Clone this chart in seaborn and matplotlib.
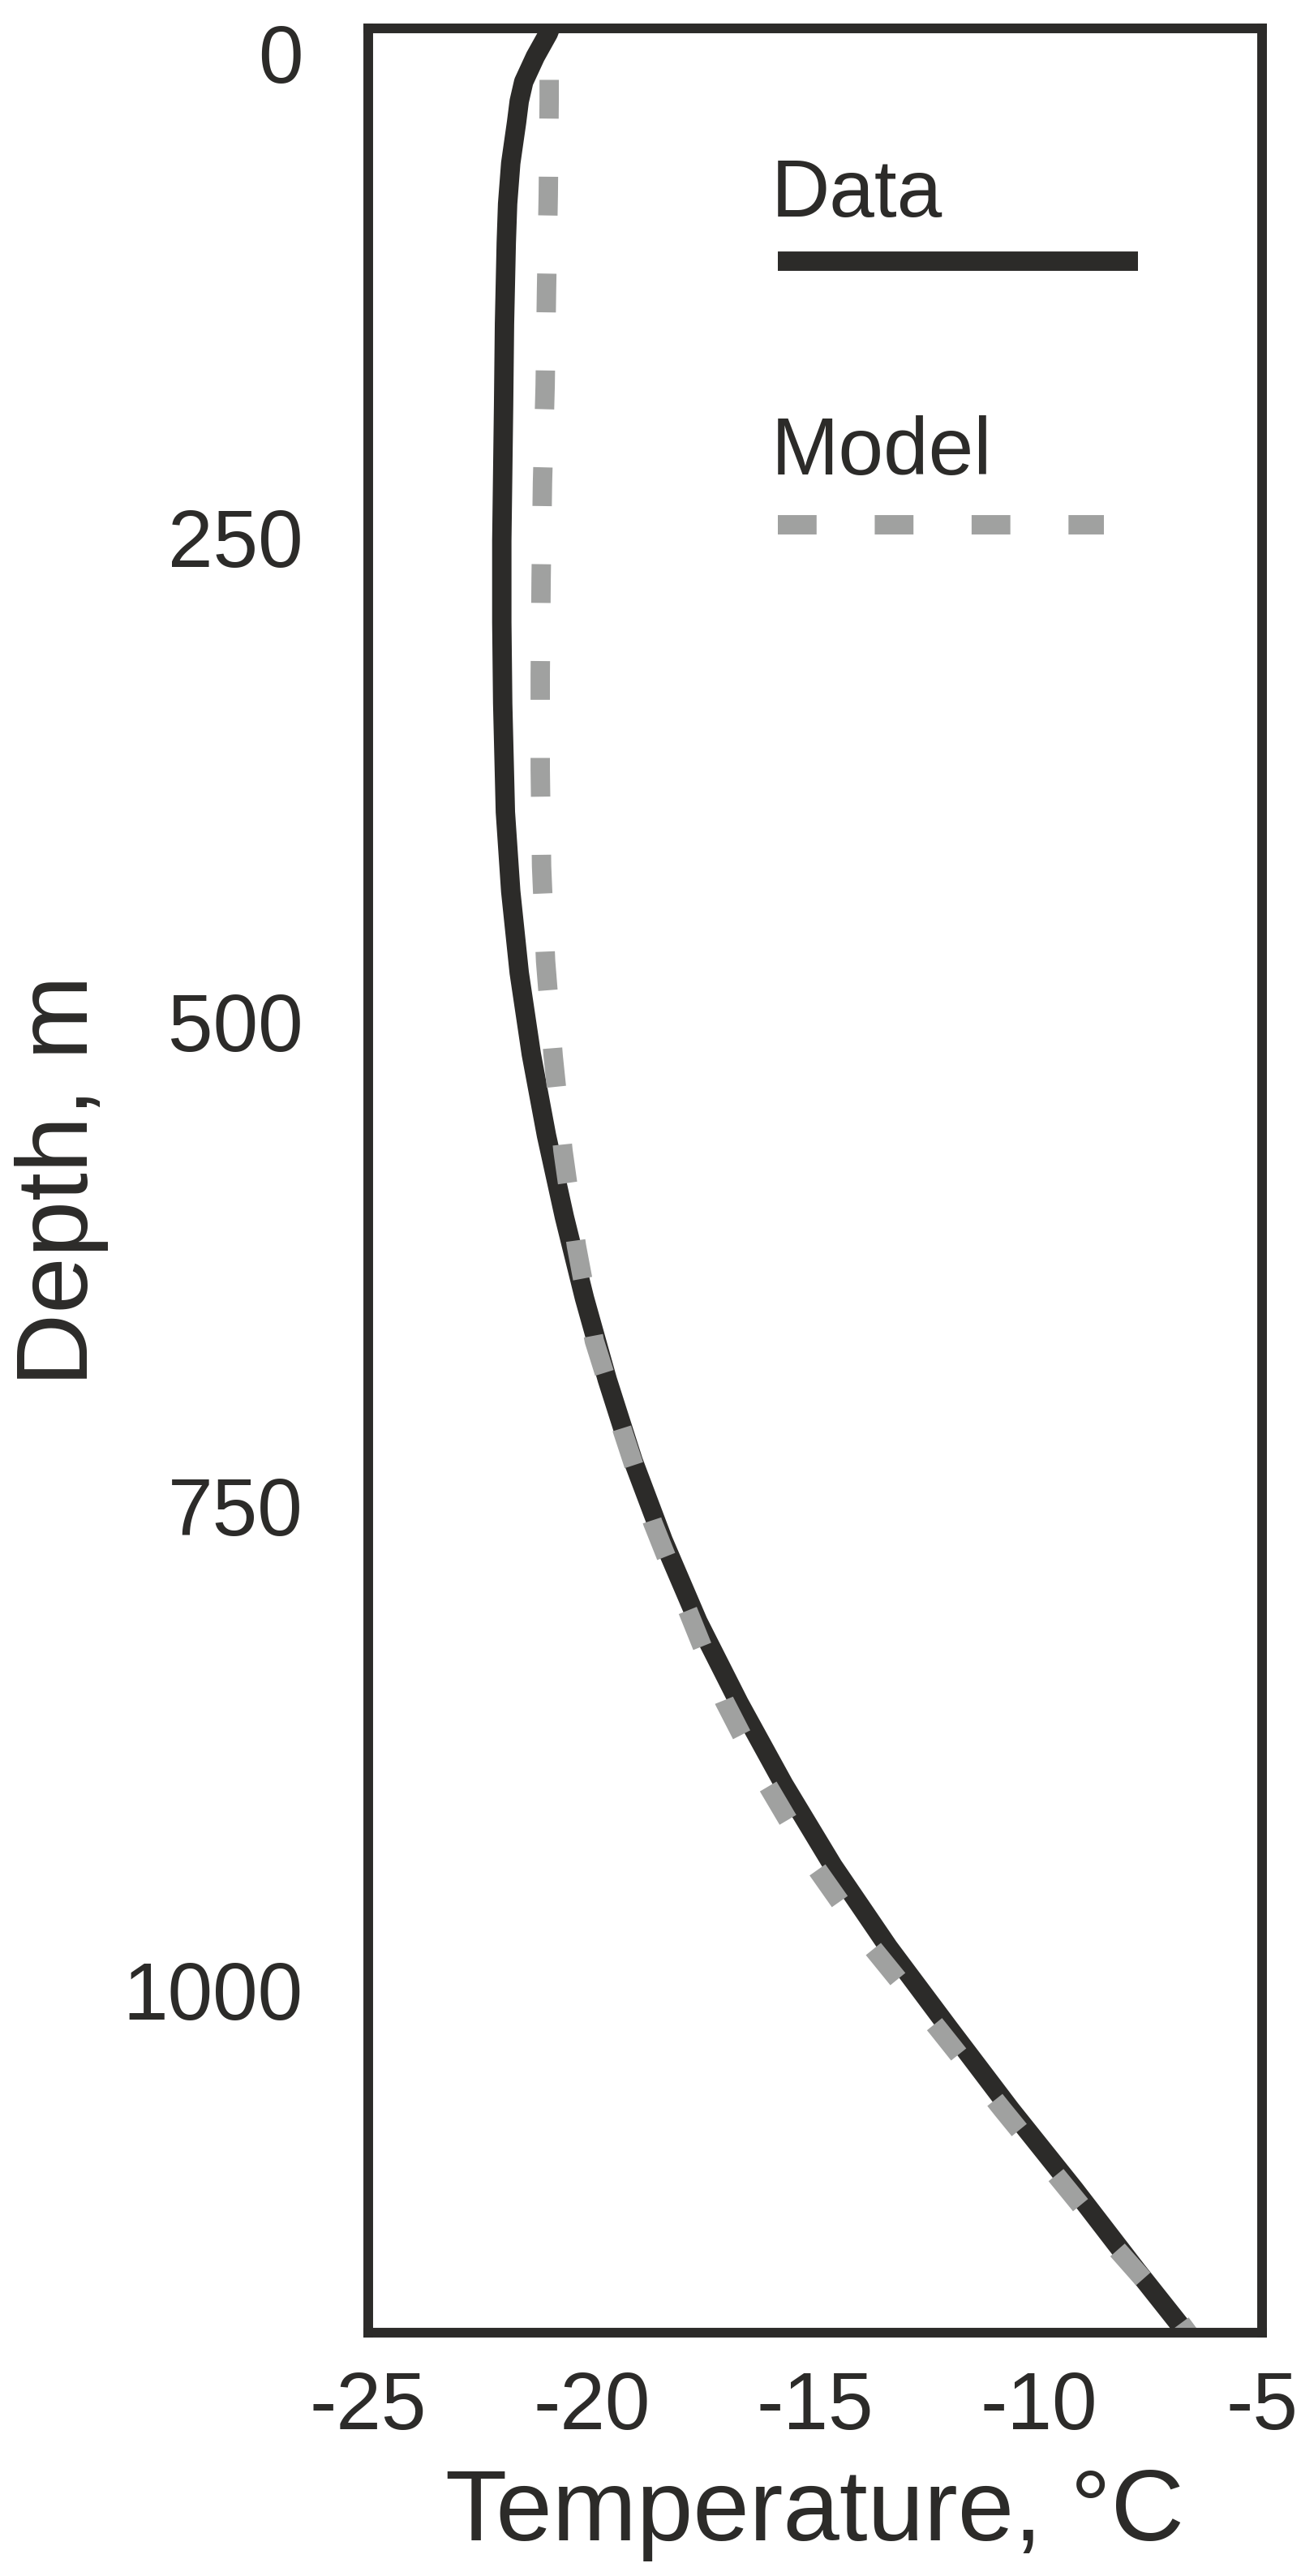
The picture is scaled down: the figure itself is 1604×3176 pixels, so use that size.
import numpy as np
import pandas as pd
import matplotlib
matplotlib.use("Agg")
import matplotlib.pyplot as plt
import seaborn as sns

# Borehole temperature profile: measured vs modelled
data_depth = [-13, -10, 2, 15, 25, 36, 57, 78, 98, 140, 182, 252, 294, 336, 392, 433,
              475, 517, 559, 601, 643, 685, 727, 768, 810, 852, 894, 936, 978, 1020,
              1062, 1103, 1145, 1177, 1180]
data_temp = [-20.92, -20.97, -21.26, -21.52, -21.62, -21.68, -21.81, -21.88, -21.91,
             -21.95, -21.97, -22.01, -22.01, -21.99, -21.93, -21.81, -21.62, -21.35,
             -21.01, -20.61, -20.16, -19.65, -19.07, -18.40, -17.62, -16.70, -15.70,
             -14.60, -13.36, -12.00, -10.62, -9.20, -7.80, -6.70, -6.60]

model_depth = [14, 24, 73, 123, 172, 222, 271, 321, 370, 420, 469, 518, 567, 616,
               665, 712, 759, 803, 851, 895, 938, 978, 1020, 1062, 1103, 1131, 1167,
               1177, 1180]
model_temp = [-20.95, -20.95, -20.97, -21.01, -21.04, -21.10, -21.13, -21.15, -21.15,
              -21.12, -21.03, -20.86, -20.64, -20.34, -19.94, -19.30, -18.63, -17.87,
              -17.03, -16.05, -14.95, -13.73, -12.25, -10.80, -9.35, -8.36, -6.98,
              -6.66, -6.56]

x_ticks = [-25, -20, -15, -10, -5]
y_ticks = [0, 250, 500, 750, 1000]

dark = "#2c2b29"
grey = "#a0a1a0"

sns.set_style("white")
plt.rcParams['font.family'] = ['Liberation Sans', 'DejaVu Sans']
plt.rcParams['axes.unicode_minus'] = False
plt.rcParams['text.color'] = dark

df_data = pd.DataFrame({"Temperature": data_temp, "Depth": data_depth})
df_model = pd.DataFrame({"Temperature": model_temp, "Depth": model_depth})

fig = plt.figure(figsize=(8.02, 15.88), dpi=200)
ax = fig.add_axes([0.283, 0.0945, 0.687, 0.8945])

lw = 8.6
sns.lineplot(data=df_data, x="Temperature", y="Depth", sort=False, estimator=None,
             color=dark, linewidth=lw, solid_capstyle="butt", solid_joinstyle="round", ax=ax)
sns.lineplot(data=df_model, x="Temperature", y="Depth", sort=False, estimator=None,
             color=grey, linewidth=lw, linestyle=(0, (2, 3)), dash_capstyle="butt", ax=ax)

ax.set_xlim(-25, -5)
ax.set_ylim(1177, -12.6)
ax.set_xticks(x_ticks)
ax.set_xticklabels([str(v) for v in x_ticks])
ax.set_yticks(y_ticks)
ax.set_yticklabels([str(v) for v in y_ticks])

for sp in ax.spines.values():
    sp.set_linewidth(4.3)
    sp.set_color(dark)

ax.tick_params(axis="x", length=0, pad=16.5, labelsize=36, labelcolor=dark)
ax.tick_params(axis="y", length=0, pad=29, labelsize=36, labelcolor=dark)

ax.set_xlabel("Temperature, °C", fontsize=45, color=dark)
ax.set_ylabel("Depth, m", fontsize=45, color=dark)
ax.xaxis.set_label_coords(0.5, -0.0585)
ax.yaxis.set_label_coords(-0.29, 0.5)

# hand-made legend: label above its line sample
ax.text(0.451, 0.9183, "Data", transform=ax.transAxes, fontsize=36, color=dark,
        ha="left", va="baseline")
ax.plot([0.458, 0.861], [0.899, 0.899], transform=ax.transAxes, color=dark,
        linewidth=lw, solid_capstyle="butt")
ax.text(0.451, 0.8064, "Model", transform=ax.transAxes, fontsize=36, color=dark,
        ha="left", va="baseline")
ax.plot([0.458, 0.823], [0.7844, 0.7844], transform=ax.transAxes, color=grey,
        linewidth=lw, linestyle=(0, (2, 3)), dash_capstyle="butt")

fig.savefig("out.png", dpi=200)
